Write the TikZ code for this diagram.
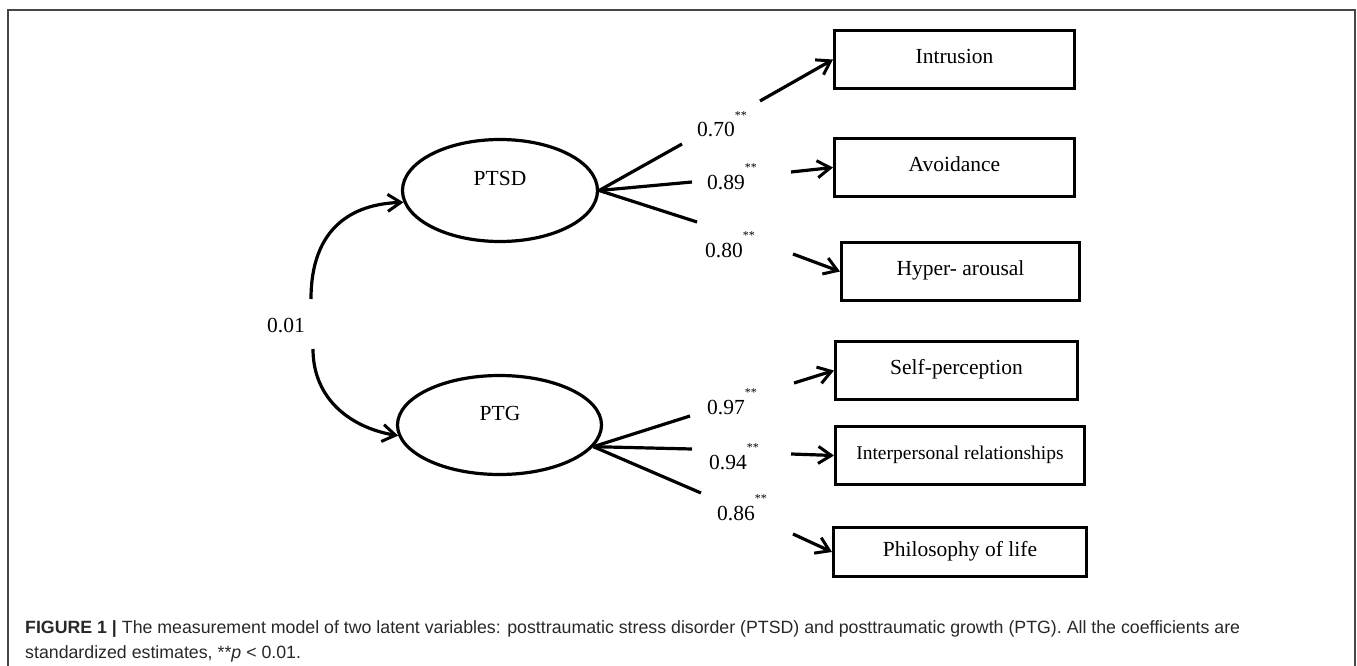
\documentclass[tikz,border=0pt]{standalone}
\usepackage{fontspec}
\setmainfont{Liberation Serif}
\newfontfamily\capfont{Liberation Sans}
\usetikzlibrary{arrows.meta,shapes.geometric}
\definecolor{capcol}{RGB}{40,40,40}
\definecolor{framecol}{RGB}{70,70,70}
\newlength\caplen
\newcommand\sstar{\raisebox{17.5pt}{\fontsize{12}{12}\selectfont **}}
\newcommand\captextA{\textbf{FIGURE 1 |} The measurement model of two latent variables: posttraumatic stress disorder (PTSD) and posttraumatic growth (PTG). All the coefficients are}
\begin{document}
\settowidth{\caplen}{\capfont\fontsize{10}{12}\selectfont\captextA}%
\pgfmathsetmacro\capsize{10*1215/\caplen}%
\begin{tikzpicture}[x=1pt,y=-1pt,
  lw/.style={line width=3.2pt},
  obs/.style={draw,lw,rectangle,minimum height=57.8pt,inner sep=0pt,
    text height=15.5pt,text depth=7.5pt,font=\fontsize{21.5}{26}\selectfont},
  latent/.style={draw,lw,ellipse,inner sep=0pt},
  lbl/.style={inner sep=0pt,font=\fontsize{21.5}{26}\selectfont},
  coef/.style={inner sep=0pt,anchor=base west,font=\fontsize{21.5}{26}\selectfont},
  link/.style={lw},
  arr/.style={lw,-{Straight Barb[length=13pt,width=17pt,line width=3pt]}},
  captext/.style={anchor=base west,inner sep=0pt,text=capcol,
    font={\capfont\fontsize{\capsize}{20}\selectfont}},
]
\useasboundingbox (0,0) rectangle (1357,666);

% frame
\draw[framecol,line width=1.6pt] (8,670) -- (8,10) -- (1355,10) -- (1355,670);

% latent variables
\node[latent,minimum width=195pt,minimum height=102pt] (ptsd) at (500,190.5) {};
\node[lbl] (ptsdt) at (500,178) {PTSD};
\node[latent,minimum width=204pt,minimum height=99pt] (ptg) at (499.5,425) {};
\node[lbl] (ptgt) at (500,413) {PTG};

% observed variables
\node[obs,minimum width=239.8pt] (intr) at (954.5,59.5) {Intrusion};
\node[obs,minimum width=239.8pt] (avoid) at (954.5,167.5) {Avoidance};
\node[obs,minimum width=237.8pt] (hyper) at (960.5,271.5) {Hyper- arousal};
\node[obs,minimum width=241.8pt] (self) at (956.5,370.5) {Self-perception};
\node[obs,minimum width=248.8pt,font=\fontsize{19.5}{24}\selectfont] (inter) at (960,455.5) {Interpersonal relationships};
\node[obs,minimum width=252.8pt,minimum height=48.8pt] (phil) at (960,552) {Philosophy of life};

% coefficients
\node[coef] (c1) at (697,137) {0.70\sstar};
\node[coef] (c2) at (707,189) {0.89\sstar};
\node[coef] (c3) at (705,257) {0.80\sstar};
\node[coef] (c4) at (707,414) {0.97\sstar};
\node[coef] (c5) at (709,469) {0.94\sstar};
\node[coef] (c6) at (717,520) {0.86\sstar};
\node[coef,anchor=base east] (c0) at (305,332) {0.01};

% line end points
\coordinate (e1) at (682,144);  \coordinate (s1) at (760,101);
\coordinate (e2) at (692,182);  \coordinate (s2) at (791,172);
\coordinate (e3) at (697,222);  \coordinate (s3) at (793,254);
\coordinate (e4) at (690,416);  \coordinate (s4) at (794,383);
\coordinate (e5) at (692,449);  \coordinate (s5) at (791,454);
\coordinate (e6) at (701,493);  \coordinate (s6) at (793,534);
\coordinate (u0) at (311,299);  \coordinate (d0) at (313,349);

% loadings
\draw[link] (ptsd.east) -- (e1);
\draw[link] (ptsd.east) -- (e2);
\draw[link] (ptsd.east) -- (e3);
\draw[arr] (s1) -- (intr.west);
\draw[arr] (s2) -- (avoid.west);
\draw[arr] (s3) -- (hyper.west);
\draw[link] (ptg.-13) -- (e4);
\draw[link] (ptg.-13) -- (e5);
\draw[link] (ptg.-13) -- (e6);
\draw[arr] (s4) -- (self.west);
\draw[arr] (s5) -- (inter.west);
\draw[arr] (s6) -- (phil.west);

% correlation
\draw[arr] (u0) .. controls (311,228) and (352,204) .. (ptsd.187);
\draw[arr] (d0) .. controls (313,400) and (352,428) .. (ptg.186);

% caption
\node[captext] (cap1) at (25,633) {\captextA};
\node[captext] (cap2) at (25,658) {standardized estimates, **\textit{p} < 0.01.};
\end{tikzpicture}
\end{document}
